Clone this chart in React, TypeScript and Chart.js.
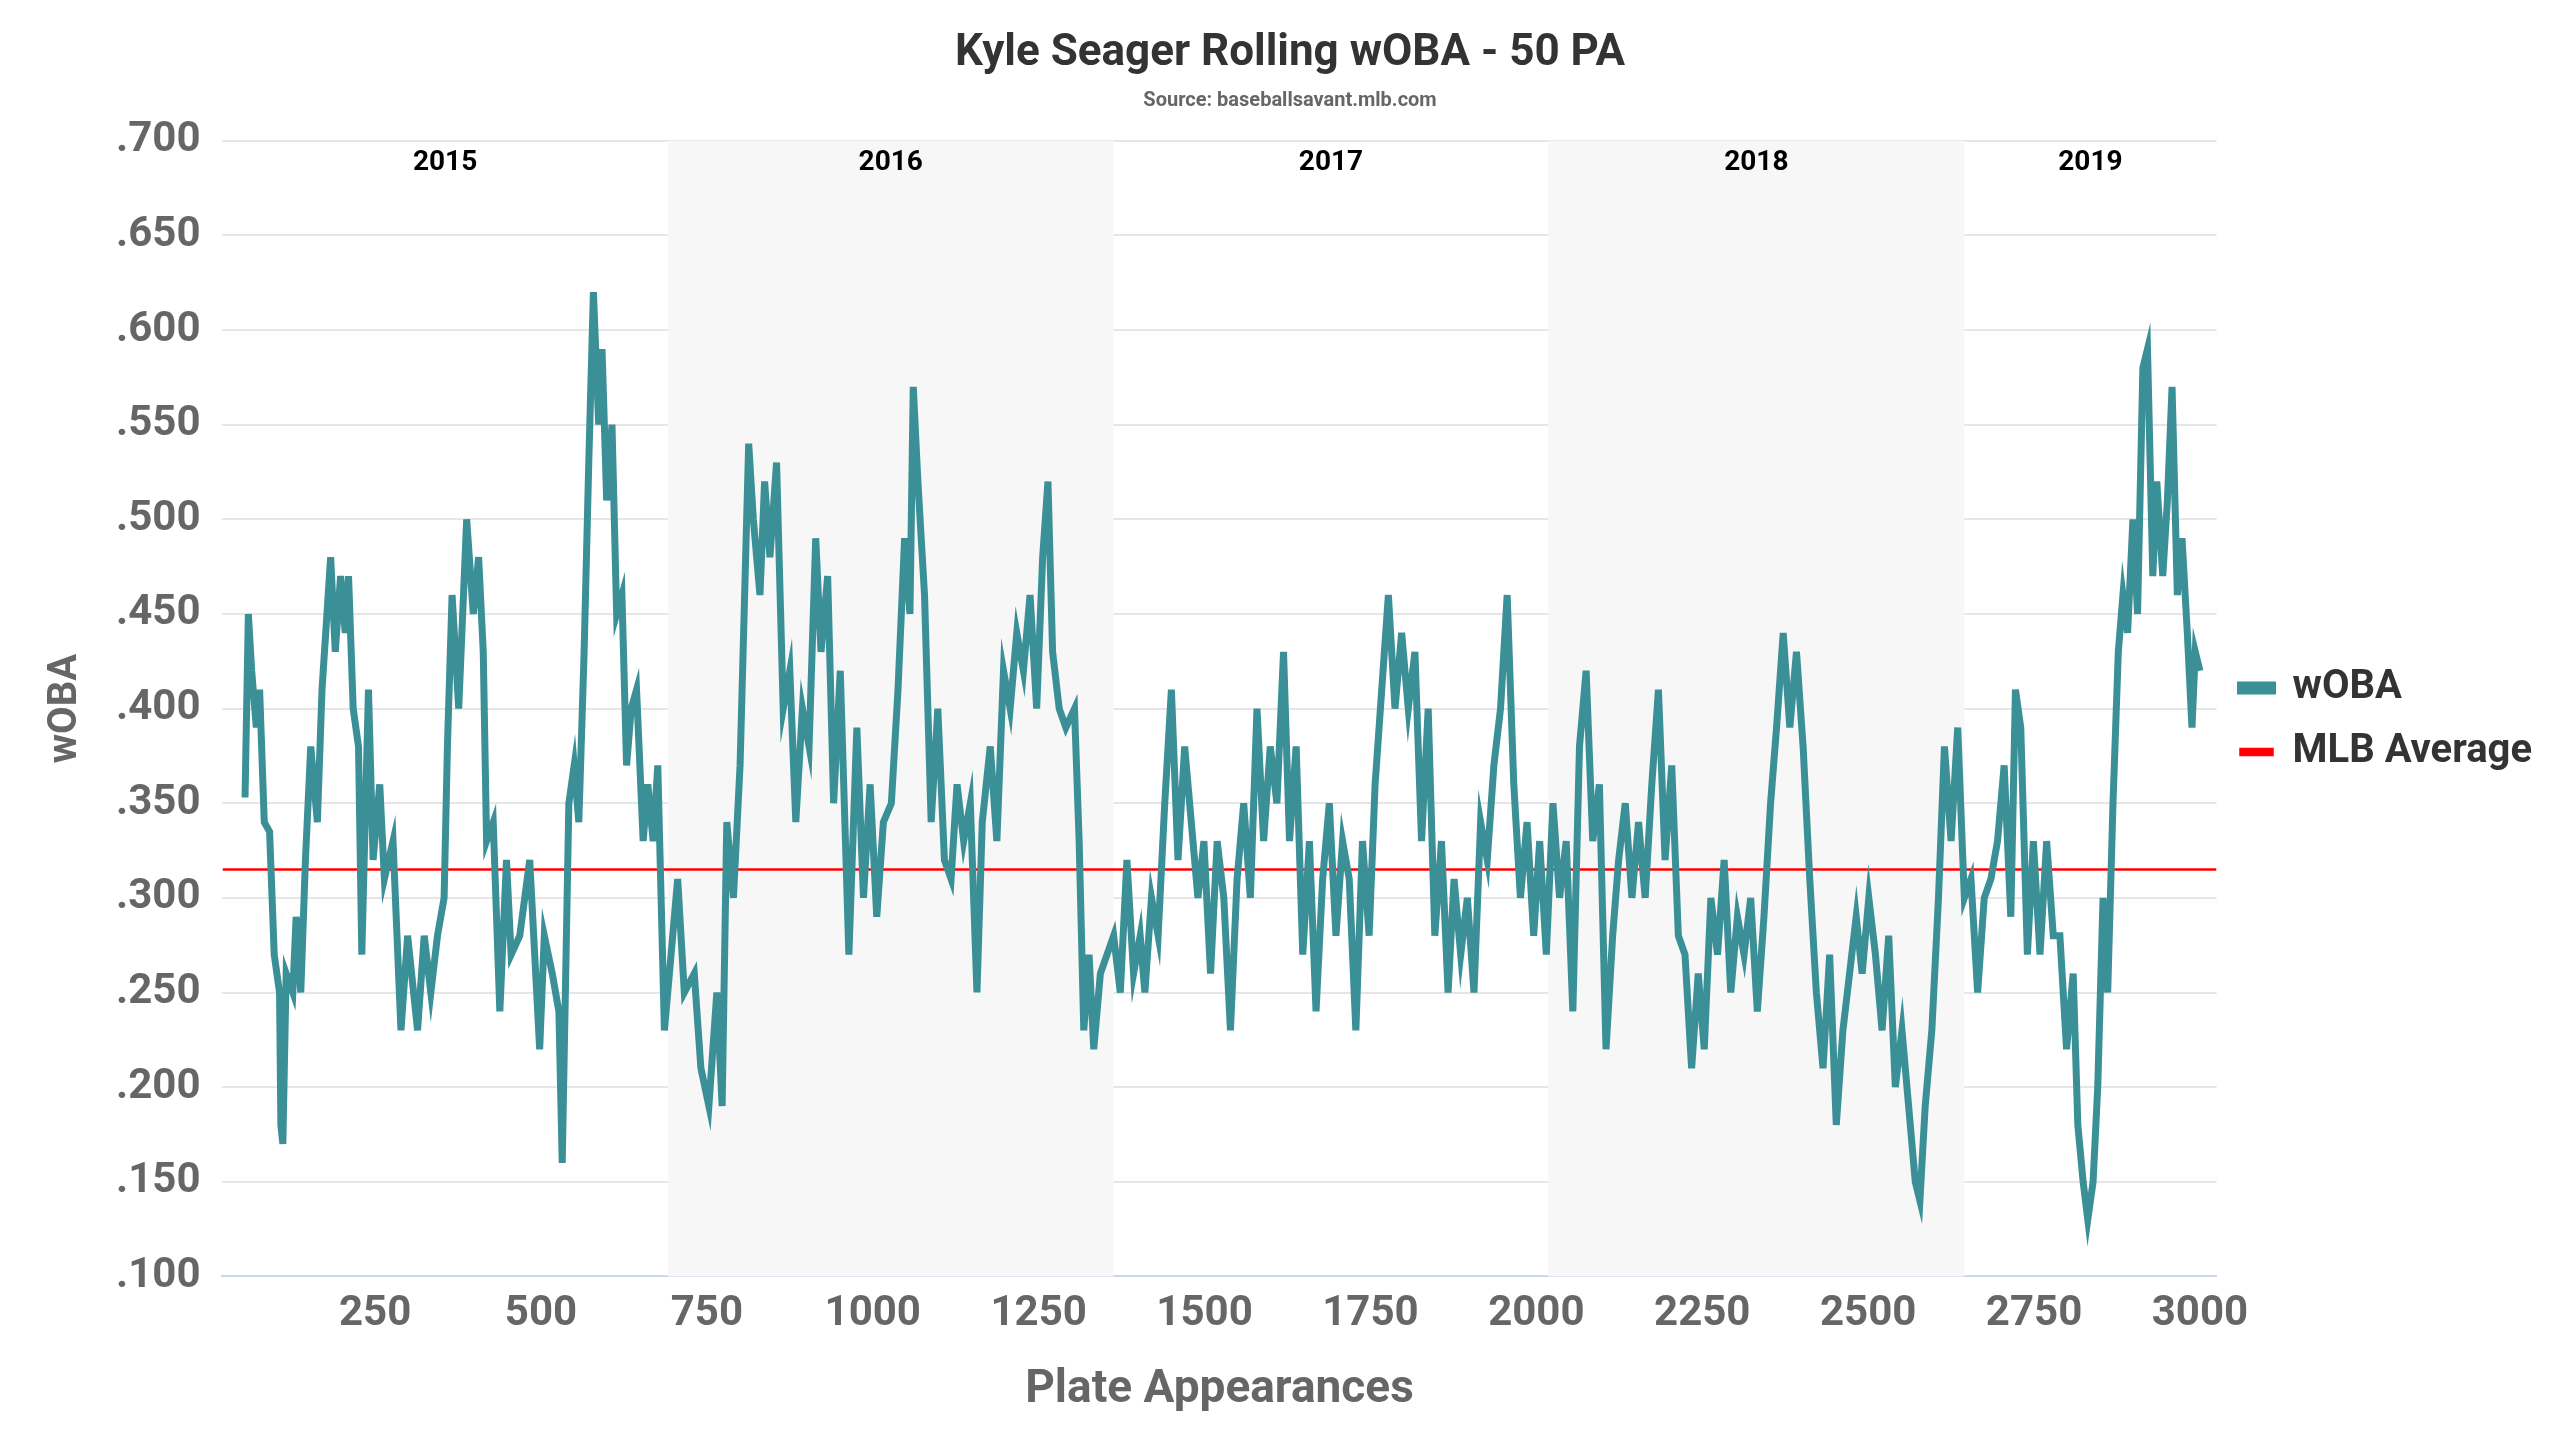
import React, { useEffect, useRef } from "react";
import { Chart, registerables } from "chart.js";
Chart.register(...registerables);

const pa = [54,59,64,71,76,83,91,98,106,108,111,116,126,131,138,145,153,163,170,183,190,198,205,210,217,225,230,240,247,257,264,277,289,299,314,324,334,344,354,359,366,376,388,398,406,413,418,428,438,448,455,468,483,498,505,517,527,532,542,550,557,565,572,579,587,592,599,607,614,622,629,636,644,654,661,669,676,686,696,706,716,731,741,753,765,773,780,790,800,813,820,830,837,845,855,865,875,884,894,904,914,922,932,941,951,964,976,986,996,1006,1016,1028,1038,1048,1056,1061,1068,1078,1088,1098,1108,1118,1127,1137,1147,1157,1165,1177,1187,1197,1207,1217,1227,1237,1247,1256,1264,1271,1281,1291,1304,1311,1318,1326,1333,1343,1353,1363,1373,1383,1393,1403,1410,1420,1430,1440,1450,1460,1470,1480,1490,1499,1509,1519,1529,1539,1549,1559,1569,1579,1589,1599,1609,1619,1628,1638,1648,1658,1668,1678,1688,1698,1708,1718,1728,1738,1748,1757,1767,1777,1787,1797,1807,1817,1827,1837,1847,1857,1867,1876,1886,1896,1906,1916,1926,1936,1946,1956,1966,1976,1986,1996,2005,2015,2025,2035,2045,2055,2065,2075,2085,2095,2105,2115,2124,2134,2144,2154,2164,2174,2184,2194,2204,2214,2224,2234,2244,2253,2263,2273,2283,2293,2303,2313,2323,2333,2343,2353,2362,2372,2382,2392,2402,2412,2422,2432,2442,2452,2462,2472,2482,2491,2501,2511,2521,2531,2541,2551,2561,2571,2578,2586,2596,2606,2615,2625,2635,2645,2655,2665,2675,2685,2695,2705,2715,2722,2730,2740,2749,2759,2769,2779,2789,2799,2809,2816,2824,2831,2839,2846,2854,2861,2869,2877,2884,2891,2899,2906,2914,2921,2929,2935,2944,2951,2958,2966,2973,2981,2988,2993,3000];
const woba = [.353,.45,.42,.39,.41,.34,.335,.27,.25,.18,.17,.26,.25,.29,.25,.32,.38,.34,.41,.48,.43,.47,.44,.47,.40,.38,.27,.41,.32,.36,.31,.33,.23,.28,.23,.28,.25,.28,.30,.38,.46,.40,.50,.45,.48,.43,.33,.34,.24,.32,.27,.28,.32,.22,.28,.26,.24,.16,.35,.37,.34,.43,.53,.62,.55,.59,.51,.55,.45,.46,.37,.40,.41,.33,.36,.33,.37,.23,.27,.31,.25,.26,.21,.19,.25,.19,.34,.30,.37,.54,.50,.46,.52,.48,.53,.40,.42,.34,.40,.38,.49,.43,.47,.35,.42,.27,.39,.30,.36,.29,.34,.35,.41,.49,.45,.57,.52,.46,.34,.40,.32,.31,.36,.33,.35,.25,.34,.38,.33,.42,.40,.44,.42,.46,.40,.48,.52,.43,.40,.39,.40,.33,.23,.27,.22,.26,.27,.28,.25,.32,.26,.28,.25,.30,.28,.35,.41,.32,.38,.34,.30,.33,.26,.33,.30,.23,.31,.35,.30,.40,.33,.38,.35,.43,.33,.38,.27,.33,.24,.31,.35,.28,.33,.31,.23,.33,.28,.36,.41,.46,.40,.44,.40,.43,.33,.40,.28,.33,.25,.31,.27,.30,.25,.34,.32,.37,.40,.46,.36,.30,.34,.28,.33,.27,.35,.30,.33,.24,.38,.42,.33,.36,.22,.28,.32,.35,.30,.34,.30,.36,.41,.32,.37,.28,.27,.21,.26,.22,.30,.27,.32,.25,.29,.27,.30,.24,.29,.35,.39,.44,.39,.43,.38,.31,.25,.21,.27,.18,.23,.26,.29,.26,.30,.27,.23,.28,.20,.23,.19,.15,.14,.19,.23,.30,.38,.33,.39,.30,.31,.25,.30,.31,.33,.37,.29,.41,.39,.27,.33,.27,.33,.28,.28,.22,.26,.18,.15,.13,.15,.20,.30,.25,.35,.43,.46,.44,.50,.45,.58,.59,.47,.52,.47,.51,.57,.46,.49,.44,.39,.43,.42];
const mlbAverage = 0.315;
const years = ["2015", "2016", "2017", "2018", "2019"];
const yearStarts = [20, 691, 1363, 2018, 2645];
const xTicks = [250, 500, 750, 1000, 1250, 1500, 1750, 2000, 2250, 2500, 2750, 3000];
const xMin = 20, xMax = 3025;

const FONT = "'Roboto', sans-serif";

const bandPlugin = {
  id: "bands",
  beforeDatasetsDraw(chart: any) {
    const { ctx, chartArea, scales } = chart;
    const x = scales.x;
    ctx.save();
    years.forEach((yr, i) => {
      const s = yearStarts[i];
      const e = i < years.length - 1 ? yearStarts[i + 1] : xMax;
      const l = x.getPixelForValue(s), r = x.getPixelForValue(e);
      if (i % 2 === 1) {
        ctx.fillStyle = "#f7f7f7";
        ctx.fillRect(l, chartArea.top, r - l, chartArea.bottom - chartArea.top);
      }
      ctx.fillStyle = "#000";
      ctx.font = `bold 28px ${FONT}`;
      ctx.textAlign = "center";
      ctx.textBaseline = "middle";
      ctx.fillText(yr, (l + r) / 2, chartArea.top + 22);
    });
    ctx.restore();
  },
};

export default function App() {
  const ref = useRef<HTMLCanvasElement>(null);
  useEffect(() => {
    const chart = new Chart(ref.current!, {
      type: "line",
      data: {
        datasets: [
          {
            label: "wOBA",
            data: pa.map((p, i) => ({ x: p, y: woba[i] })),
            borderColor: "#3a9096",
            backgroundColor: "#3a9096",
            borderWidth: 7,
            pointRadius: 0,
            tension: 0,
          },
          {
            label: "MLB Average",
            data: [{ x: xMin, y: mlbAverage }, { x: xMax, y: mlbAverage }],
            borderColor: "#ff0000",
            backgroundColor: "#ff0000",
            borderWidth: 2.5,
            pointRadius: 0,
          },
        ],
      },
      options: {
        animation: false,
        responsive: true,
        maintainAspectRatio: false,
        layout: { padding: { left: 30, right: 10, top: 10, bottom: 10 } },
        plugins: {
          title: {
            display: true,
            text: "Kyle Seager Rolling wOBA - 50 PA",
            font: { family: FONT, size: 44, weight: "bold" },
            color: "#333",
            padding: { top: 10, bottom: 8 },
          },
          subtitle: {
            display: true,
            text: "Source: baseballsavant.mlb.com",
            font: { family: FONT, size: 20, weight: "bold" },
            color: "#666",
            padding: { bottom: 28 },
          },
          legend: {
            position: "right",
            labels: {
              boxWidth: 32,
              boxHeight: 6,
              font: { family: FONT, size: 40, weight: "bold" },
              color: "#333",
              padding: 24,
            },
          },
          tooltip: { enabled: false },
        },
        scales: {
          x: {
            type: "linear",
            min: xMin,
            max: xMax,
            afterBuildTicks: (s: any) => {
              s.ticks = xTicks.map((v) => ({ value: v }));
            },
            grid: { display: false, drawTicks: true, tickLength: 10, color: "#ccd6eb" },
            border: { color: "#ccd6eb", width: 2 },
            ticks: {
              font: { family: FONT, size: 42, weight: "bold" },
              color: "#666",
              maxRotation: 0,
              autoSkip: false,
              callback: (v: any) => String(v),
            },
            title: { display: true, text: "Plate Appearances", font: { family: FONT, size: 46, weight: "bold" }, color: "#666", padding: { top: 20 } },
          },
          y: {
            min: 0.1,
            max: 0.7,
            ticks: {
              stepSize: 0.05,
              padding: 22,
              font: { family: FONT, size: 42, weight: "bold" },
              color: "#666",
              callback: (v: any) => Number(v).toFixed(3).replace(/^0/, ""),
            },
            grid: { color: "#e6e6e6", lineWidth: 2, drawTicks: false },
            border: { display: false },
            title: { display: true, text: "wOBA", font: { family: FONT, size: 40, weight: "bold" }, color: "#666" },
          },
        },
      },
      plugins: [bandPlugin],
    } as any);
    return () => chart.destroy();
  }, []);
  return (
    <div style={{ width: 2544, height: 1424 }}>
      <canvas ref={ref} />
    </div>
  );
}
